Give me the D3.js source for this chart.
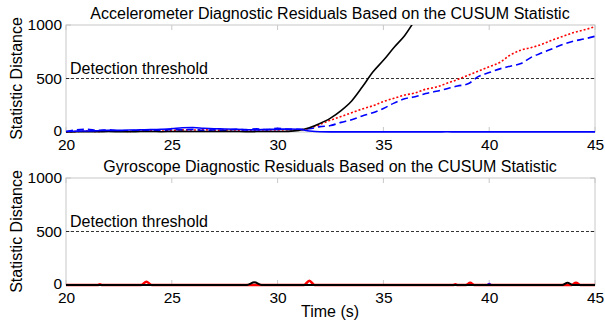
<!DOCTYPE html>
<html lang="en">
<head>
<meta charset="utf-8">
<script src="https://d3js.org/d3.v7.min.js"></script>
<style>
  body { margin: 0; background: #fff; }
  svg { font-family: "Liberation Sans", Arial, sans-serif; }
</style>
</head>
<body>
<svg id="chart" width="605" height="326"></svg>
<script>
// accelerometer residuals, sampled every 0.5 s from 20 to 45
var accTime = d3.range(20, 45.01, 0.5);
var accBlueSolid = [5, 8, 10, 12, 15, 15, 18, 20, 22, 25, 30, 40, 42, 35, 30, 28, 25, 22, 20, 25, 25, 28, 25, 10, 2,
  1, 1, 1, 1, 1, 1, 1, 1, 1, 1, 1, 2, 1, 1, 1, 1, 1, 1, 1, 1, 1, 1, 1, 1, 1, 1];
var accBlueDash = [5, 20, 25, 15, 20, 10, 15, 10, 20, 15, 25, 20, 25, 15, 20, 15, 25, 20, 30, 20, 35, 25, 25, 30, 50,
  60, 90, 115, 150, 180, 220, 270, 310, 330, 360, 380, 405, 430, 450, 520, 555, 590, 615, 640, 700, 740, 780, 820, 850, 870, 895];
var accRedDot = [0, 5, 8, 5, 10, 8, 6, 10, 12, 8, 15, 20, 18, 22, 15, 20, 18, 12, 15, 20, 18, 22, 20, 35, 70,
  110, 145, 180, 215, 245, 285, 315, 345, 365, 400, 420, 455, 490, 530, 570, 610, 650, 720, 765, 790, 820, 860, 895, 930, 955, 985];
var accBlack = [0, 2, 3, 2, 4, 3, 2, 4, 5, 3, 5, 6, 4, 5, 4, 6, 5, 3, 4, 5, 4, 6, 15, 40, 80,
  130, 200, 290, 420, 560, 670, 790, 900, 1050, null, null, null, null, null, null, null, null, null, null, null, null, null, null, null, null, null];

// gyroscope residuals: [time, value] pairs, flat with small bumps
var gyroBlueSolid = [[20, 0], [39.9, 0], [40, 12], [40.1, 0], [45, 0]];
var gyroRedDot = [[20, 0], [21.5, 0], [21.6, 8], [21.7, 0], [23.55, 0], [23.8, 30], [24.05, 0], [31.25, 0], [31.5, 40], [31.75, 0],
  [38.3, 0], [38.4, 8], [38.5, 0], [38.9, 0], [39.1, 20], [39.3, 0], [43.9, 0], [44.1, 22], [44.3, 0], [45, 0]];
var gyroBlack = [[20, 0], [28.55, 0], [28.9, 25], [29.25, 0], [43.45, 0], [43.7, 20], [43.95, 0], [45, 0]];

var xTicks = [20, 25, 30, 35, 40, 45];
var yTicks = [0, 500, 1000];
var threshold = 500;

var svg = d3.select('#chart');
var left = 66, right = 595;
var fontBig = 16, fontTick = 15.5;

var x = d3.scaleLinear().domain([20, 45]).range([left, right]);

function panel(top, bottom, title, series, id) {
  var y = d3.scaleLinear().domain([0, 1000]).range([bottom, top]);
  var g = svg.append('g');

  g.append('clipPath').attr('id', 'clip' + id)
    .append('rect').attr('x', left).attr('y', top).attr('width', right - left).attr('height', bottom - top + 3);

  // box
  g.append('rect').attr('x', left).attr('y', top).attr('width', right - left).attr('height', bottom - top)
    .attr('fill', 'none').attr('stroke', '#c8c8c8').attr('stroke-width', 1);

  // inner ticks
  xTicks.forEach(function(t) {
    g.append('line').attr('x1', x(t)).attr('x2', x(t)).attr('y1', bottom).attr('y2', bottom - 5).attr('stroke', '#c8c8c8');
    g.append('line').attr('x1', x(t)).attr('x2', x(t)).attr('y1', top).attr('y2', top + 5).attr('stroke', '#c8c8c8');
  });
  yTicks.forEach(function(v) {
    g.append('line').attr('x1', left).attr('x2', left + 5).attr('y1', y(v)).attr('y2', y(v)).attr('stroke', '#c8c8c8');
    g.append('line').attr('x1', right).attr('x2', right - 5).attr('y1', y(v)).attr('y2', y(v)).attr('stroke', '#c8c8c8');
  });

  var xAxis = d3.axisBottom(x).tickValues(xTicks).tickSize(0).tickPadding(7).tickFormat(d3.format('d'));
  var gx = g.append('g').attr('transform', 'translate(0,' + bottom + ')').call(xAxis);
  var yAxis = d3.axisLeft(y).tickValues(yTicks).tickSize(0).tickPadding(4).tickFormat(d3.format('d'));
  var gy = g.append('g').attr('transform', 'translate(' + left + ',0)').call(yAxis);
  [gx, gy].forEach(function(a) {
    a.select('.domain').remove();
    a.selectAll('text').attr('font-size', fontTick).attr('fill', '#000').attr('font-family', '"Liberation Sans", Arial, sans-serif');
  });
  // lift the "0" a touch so it does not sit on the "20"
  gy.selectAll('.tick').filter(function(d) { return d === 0; }).select('text').attr('dy', '0.2em');

  // threshold
  g.append('line').attr('x1', left).attr('x2', right).attr('y1', y(threshold)).attr('y2', y(threshold))
    .attr('stroke', '#000').attr('stroke-width', 0.8).attr('stroke-dasharray', '3,2');
  g.append('text').attr('x', left + 4).attr('y', y(threshold) - 5).attr('font-size', fontBig).text('Detection threshold');

  // series
  var line = d3.line().defined(function(d) { return d[1] != null; })
    .curve(d3.curveMonotoneX)
    .x(function(d) { return x(d[0]); }).y(function(d) { return y(d[1]); });
  var lg = g.append('g').attr('clip-path', 'url(#clip' + id + ')');
  series.forEach(function(s) {
    lg.append('path').datum(s.data).attr('d', line).attr('fill', 'none')
      .attr('stroke', s.color).attr('stroke-width', s.width || 1.6)
      .attr('stroke-dasharray', s.dash || null);
  });

  // title and y label
  g.append('text').attr('x', 330).attr('y', top - 6).attr('text-anchor', 'middle').attr('font-size', fontBig).text(title);
  g.append('text').attr('transform', 'translate(22,' + ((top + bottom) / 2) + ') rotate(-90)')
    .attr('text-anchor', 'middle').attr('font-size', fontBig).text('Statistic Distance');
}

function zipSeries(vals) {
  return accTime.map(function(t, i) { return [t, vals[i]]; });
}

panel(25, 132, 'Accelerometer Diagnostic Residuals Based on the CUSUM Statistic', [
  { data: zipSeries(accRedDot), color: '#ff0000', dash: '2,2' },
  { data: zipSeries(accBlueDash), color: '#0000ff', dash: '7,4' },
  { data: zipSeries(accBlack), color: '#000000' },
  { data: zipSeries(accBlueSolid), color: '#0000ff' }
], 1);

panel(178, 285, 'Gyroscope Diagnostic Residuals Based on the CUSUM Statistic', [
  { data: gyroBlueSolid, color: '#0000ff', width: 2 },
  { data: gyroRedDot, color: '#ff0000', width: 2.5 },
  { data: gyroBlack, color: '#000000', width: 2 }
], 2);

svg.append('text').attr('x', 330).attr('y', 317).attr('text-anchor', 'middle').attr('font-size', fontBig).text('Time (s)');
</script>
</body>
</html>
